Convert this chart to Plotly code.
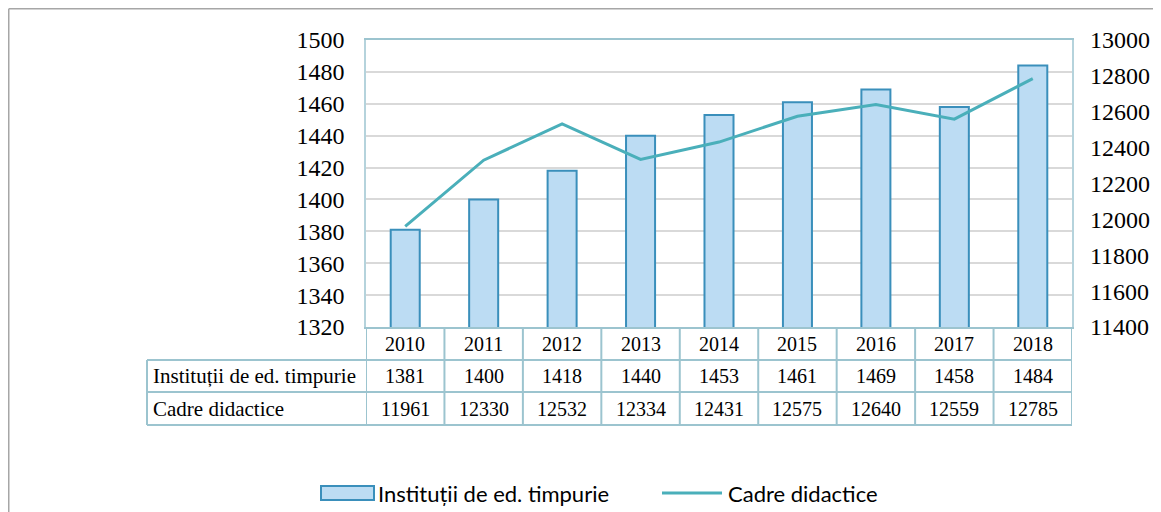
import plotly.graph_objects as go

years = ["2010", "2011", "2012", "2013", "2014", "2015", "2016", "2017", "2018"]
institutii = [1381, 1400, 1418, 1440, 1453, 1461, 1469, 1458, 1484]
cadre = [11961, 12330, 12532, 12334, 12431, 12575, 12640, 12559, 12785]
name_inst = "Instituții de ed. timpurie"
name_cadre = "Cadre didactice"

OFF = 8  # page body margin
W, H = 1161 - OFF, 512 - OFF
# plot area in screen pixels
SL, SR, ST, SB = 366, 1072, 40, 327
L, R, T, B = SL - OFF, SR - OFF, ST - OFF, SB - OFF
pw, ph = R - L, B - T

def px(xs):
    return (xs - OFF - L) / pw

def py(ys):
    return (B - (ys - OFF)) / ph

serif = "Times New Roman, Liberation Serif, serif"
sans = "Lato"
tcol = "#9cc4cf"
bar_fill = "#bcdcf3"
bar_line = "#3a8fbb"
line_col = "#4aafba"

fig = go.Figure()
fig.add_trace(go.Bar(
    x=list(range(len(years))), y=institutii, name=name_inst,
    marker=dict(color=bar_fill, line=dict(color=bar_line, width=2)),
    width=0.37, yaxis="y", showlegend=False,
))
fig.add_trace(go.Scatter(
    x=list(range(len(years))), y=cadre, name=name_cadre, mode="lines",
    line=dict(color=line_col, width=3), yaxis="y2", showlegend=False,
))

shapes = []
# outer frame (top and left edges)
shapes.append(dict(type="line", xref="paper", yref="paper", x0=px(8.75), x1=px(1175),
                   y0=py(8.75), y1=py(8.75), line=dict(color="#a6a6a6", width=1.5)))
shapes.append(dict(type="line", xref="paper", yref="paper", x0=px(8.75), x1=px(8.75),
                   y0=py(8.75), y1=py(525), line=dict(color="#a6a6a6", width=1.5)))
# table rows
r0, r1, r2, r3 = 0, py(360), py(392), py(425)
x_first = px(147)
for yy in (r1, r2, r3):
    shapes.append(dict(type="line", xref="paper", yref="paper", x0=x_first, x1=1,
                       y0=yy, y1=yy, line=dict(color=tcol, width=2)))
for i in range(len(years) + 1):
    shapes.append(dict(type="line", xref="x", yref="paper", x0=i - 0.5, x1=i - 0.5,
                       y0=0, y1=r3, line=dict(color=tcol, width=2)))
shapes.append(dict(type="line", xref="paper", yref="paper", x0=x_first, x1=x_first,
                   y0=r1, y1=r3, line=dict(color=tcol, width=2)))

# legend (manual)
shapes.append(dict(type="rect", xref="paper", yref="paper", x0=px(321), x1=px(374),
                   y0=py(500), y1=py(486), fillcolor=bar_fill, line=dict(color=bar_line, width=2)))
shapes.append(dict(type="line", xref="paper", yref="paper", x0=px(662), x1=px(722),
                   y0=py(493), y1=py(493), line=dict(color=line_col, width=3)))

annotations = []
rows = [(r0, r1, years), (r1, r2, [str(v) for v in institutii]), (r2, r3, [str(v) for v in cadre])]
for (ya, yb, vals) in rows:
    for i, v in enumerate(vals):
        annotations.append(dict(x=i, y=(ya + yb) / 2, xref="x", yref="paper", text=v,
                                showarrow=False, font=dict(family=serif, size=20, color="#000"),
                                xanchor="center", yanchor="middle"))
annotations.append(dict(x=px(151), y=(r1 + r2) / 2, xref="paper", yref="paper", text=name_inst,
                        showarrow=False, font=dict(family=serif, size=21, color="#000"),
                        xanchor="left", yanchor="middle"))
annotations.append(dict(x=px(151), y=(r2 + r3) / 2, xref="paper", yref="paper", text=name_cadre,
                        showarrow=False, font=dict(family=serif, size=21, color="#000"),
                        xanchor="left", yanchor="middle"))
annotations.append(dict(x=px(376), y=py(493), xref="paper", yref="paper", text=name_inst,
                        showarrow=False, font=dict(family=sans, size=22, color="#000"),
                        xanchor="left", yanchor="middle"))
annotations.append(dict(x=px(726), y=py(493), xref="paper", yref="paper", text=name_cadre,
                        showarrow=False, font=dict(family=sans, size=22, color="#000"),
                        xanchor="left", yanchor="middle"))

fig.update_layout(
    width=W, height=H,
    margin=dict(l=L, r=W - R, t=T, b=H - B, pad=0, autoexpand=False),
    paper_bgcolor="#ffffff", plot_bgcolor="#ffffff",
    font=dict(family=serif, size=22, color="#000"),
    showlegend=False,
    xaxis=dict(range=[-0.5, len(years) - 0.5], showticklabels=False, showgrid=False,
               zeroline=False, showline=True, linecolor=tcol, linewidth=2, mirror=True,
               fixedrange=True, automargin=False),
    yaxis=dict(range=[1320, 1500], dtick=20, tick0=1320, showgrid=True, gridcolor="#d9d9d9",
               gridwidth=1.5, zeroline=False, showline=True, linecolor="#b5d3dc", linewidth=1.5,
               mirror=True, tickfont=dict(family=serif, size=24, color="#000"),
               ticklabelstandoff=15, ticks="", automargin=False, tickformat="d"),
    yaxis2=dict(range=[11400, 13000], dtick=200, tick0=11400, overlaying="y", side="right",
                showgrid=False, zeroline=False, showline=False,
                tickfont=dict(family=serif, size=24, color="#000"),
                ticklabelstandoff=17, ticks="", automargin=False, tickformat="d"),
    shapes=shapes, annotations=annotations,
)

fig.write_html("out.html")
